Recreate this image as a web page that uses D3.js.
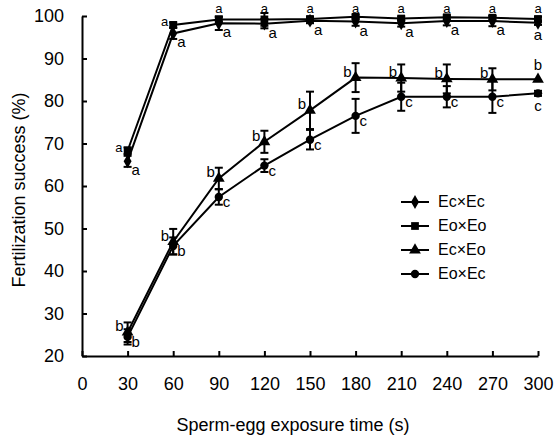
<!DOCTYPE html>
<html>
<head>
<meta charset="utf-8">
<script src="https://cdn.jsdelivr.net/npm/d3@7"></script>
<style>
  body { margin: 0; background: #fff; }
  text { font-family: "Liberation Sans", Arial, sans-serif; }
</style>
</head>
<body>
<div id="chart"></div>
<script>
// exposure times (s)
var times = [30, 60, 90, 120, 150, 180, 210, 240, 270, 300];
var xTicks = [0, 30, 60, 90, 120, 150, 180, 210, 240, 270, 300];
var yTicks = [20, 30, 40, 50, 60, 70, 80, 90, 100];

// fertilization success (%) and error bars
var ecEc = [65.8, 95.9, 98.3, 98.2, 98.9, 98.7, 98.3, 98.8, 98.8, 98.4];
var ecEcErr = [1.3, 1.3, 1.6, 1.1, 0.6, 1.0, 0.8, 1.0, 1.2, 0.5];
var eoEo = [68.3, 97.9, 99.2, 99.2, 99.3, 99.8, 99.4, 99.7, 99.6, 99.3];
var eoEoErr = [0.8, 0.6, 0.5, 1.5, 0.5, 0.5, 0.5, 0.5, 0.5, 0.5];
var ecEo = [25.6, 46.9, 61.8, 70.4, 77.8, 85.5, 85.4, 85.2, 85.1, 85.1];
var ecEoErr = [2.3, 3.0, 2.5, 2.6, 4.4, 3.4, 3.2, 3.4, 2.6, 0];
var eoEc = [24.5, 45.9, 57.4, 64.8, 70.9, 76.5, 81.0, 81.0, 81.0, 81.8];
var eoEcErr = [1.8, 2.0, 1.8, 1.5, 2.3, 4.0, 3.3, 2.5, 3.8, 0.6];

// significance letters
var ecEcLetters = ['a', 'a', 'a', 'a', 'a', 'a', 'a', 'a', 'a', 'a'];
var eoEoLetters = ['a', 'a', 'a', 'a', 'a', 'a', 'a', 'a', 'a', 'a'];
var ecEoLetters = ['b', 'b', 'b', 'b', 'b', 'b', 'b', 'b', 'b', 'b'];
var eoEcLetters = ['b', 'b', 'c', 'c', 'c', 'c', 'c', 'c', 'c', 'c'];

var seriesNames = ['Ec\u00d7Ec', 'Eo\u00d7Eo', 'Ec\u00d7Eo', 'Eo\u00d7Ec'];

var width = 559, height = 441;

var svg = d3.select('#chart')
	.append('svg')
	.attr('width', width)
	.attr('height', height);

var x = d3.scaleLinear().domain([0, 300]).range([82, 538]);
var y = d3.scaleLinear().domain([20, 100]).range([356, 16]);

var xAxis = d3.axisBottom(x)
	.tickValues(xTicks)
	.tickSizeInner(-5)
	.tickSizeOuter(0)
	.tickPadding(21);

var yAxis = d3.axisLeft(y)
	.tickValues(yTicks)
	.tickSizeInner(-5)
	.tickSizeOuter(0)
	.tickPadding(18);

var gx = svg.append('g')
	.attr('transform', 'translate(0,' + y(20) + ')')
	.call(xAxis);

var gy = svg.append('g')
	.attr('transform', 'translate(' + x(0) + ',0)')
	.call(yAxis);

[gx, gy].forEach(function(g) {
	g.select('.domain').attr('stroke', '#000').attr('stroke-width', 2);
	g.selectAll('.tick line').attr('stroke', '#000').attr('stroke-width', 2);
	g.selectAll('.tick text')
		.attr('fill', '#000')
		.style('font-size', '18px')
		.style('font-family', '"Liberation Sans", Arial, sans-serif');
});

svg.append('text')
	.text('Sperm-egg exposure time (s)')
	.attr('x', 293)
	.attr('y', 431)
	.attr('text-anchor', 'middle')
	.style('font-size', '18px');

svg.append('text')
	.text('Fertilization success (%)')
	.attr('transform', 'translate(25,190) rotate(-90)')
	.attr('text-anchor', 'middle')
	.style('font-size', '18px');

var symbols = [
	d3.symbol().type(d3.symbolDiamond).size(55),
	d3.symbol().type(d3.symbolSquare).size(60),
	d3.symbol().type(d3.symbolTriangle).size(60),
	d3.symbol().type(d3.symbolCircle).size(55)
];

var series = [
	{vals: ecEc, err: ecEcErr, letters: ecEcLetters, sym: symbols[0], place: 'rb'},
	{vals: eoEo, err: eoEoErr, letters: eoEoLetters, sym: symbols[1], place: 'ta'},
	{vals: ecEo, err: ecEoErr, letters: ecEoLetters, sym: symbols[2], place: 'lb'},
	{vals: eoEc, err: eoEcErr, letters: eoEcLetters, sym: symbols[3], place: 'rc'}
];

var line = d3.line()
	.x(function(d) { return x(d.t); })
	.y(function(d) { return y(d.v); });

series.forEach(function(s) {
	var pts = times.map(function(t, i) {
		return {t: t, v: s.vals[i], e: s.err[i], l: s.letters[i], i: i};
	});

	var g = svg.append('g');

	g.append('path')
		.datum(pts)
		.attr('d', line)
		.attr('fill', 'none')
		.attr('stroke', '#000')
		.attr('stroke-width', 2);

	var eb = g.selectAll('.err')
		.data(pts.filter(function(d) { return d.e > 0; }))
		.enter()
		.append('g')
		.attr('stroke', '#000')
		.attr('stroke-width', 2);

	eb.append('line')
		.attr('x1', function(d) { return x(d.t); })
		.attr('x2', function(d) { return x(d.t); })
		.attr('y1', function(d) { return y(d.v - d.e); })
		.attr('y2', function(d) { return y(d.v + d.e); });

	[-1, 1].forEach(function(sign) {
		eb.append('line')
			.attr('x1', function(d) { return x(d.t) - 4; })
			.attr('x2', function(d) { return x(d.t) + 4; })
			.attr('y1', function(d) { return y(d.v + sign * d.e); })
			.attr('y2', function(d) { return y(d.v + sign * d.e); });
	});

	g.selectAll('.mark')
		.data(pts)
		.enter()
		.append('path')
		.attr('d', s.sym)
		.attr('transform', function(d) { return 'translate(' + x(d.t) + ',' + y(d.v) + ')'; })
		.attr('fill', '#000');

	g.selectAll('.lab')
		.data(pts)
		.enter()
		.append('text')
		.text(function(d) { return d.l; })
		.style('font-size', function() { return s.place === 'ta' ? '13px' : '15px'; })
		.attr('text-anchor', function(d) {
			if (s.place === 'ta') return d.i < 2 ? 'end' : 'middle';
			if (s.place === 'lb') return d.i === 9 ? 'middle' : 'end';
			return d.i === 9 ? 'middle' : 'start';
		})
		.attr('x', function(d) {
			var px = x(d.t);
			if (s.place === 'ta') return d.i < 2 ? px - 5 : px;
			if (s.place === 'lb') return d.i === 9 ? px : px - 4;
			return d.i === 9 ? px : px + 4;
		})
		.attr('y', function(d) {
			var py = y(d.v);
			if (s.place === 'ta') return d.i < 2 ? py + 1 : Math.max(py - 7, 13);
			if (s.place === 'lb') return d.i === 9 ? py - 9 : py - 1;
			if (s.place === 'rc') return d.i === 9 ? py + 18 : py + 10;
			return d.i === 9 ? py + 17 : py + 14;
		});
});

// legend
var legend = svg.append('g');
seriesNames.forEach(function(name, i) {
	var ly = 202 + i * 24;
	legend.append('line')
		.attr('x1', 401).attr('x2', 429)
		.attr('y1', ly).attr('y2', ly)
		.attr('stroke', '#000').attr('stroke-width', 2);
	legend.append('path')
		.attr('d', symbols[i])
		.attr('transform', 'translate(415,' + ly + ')')
		.attr('fill', '#000');
	legend.append('text')
		.text(name)
		.attr('x', 438)
		.attr('y', ly + 5)
		.style('font-size', '16px');
});
</script>
</body>
</html>
